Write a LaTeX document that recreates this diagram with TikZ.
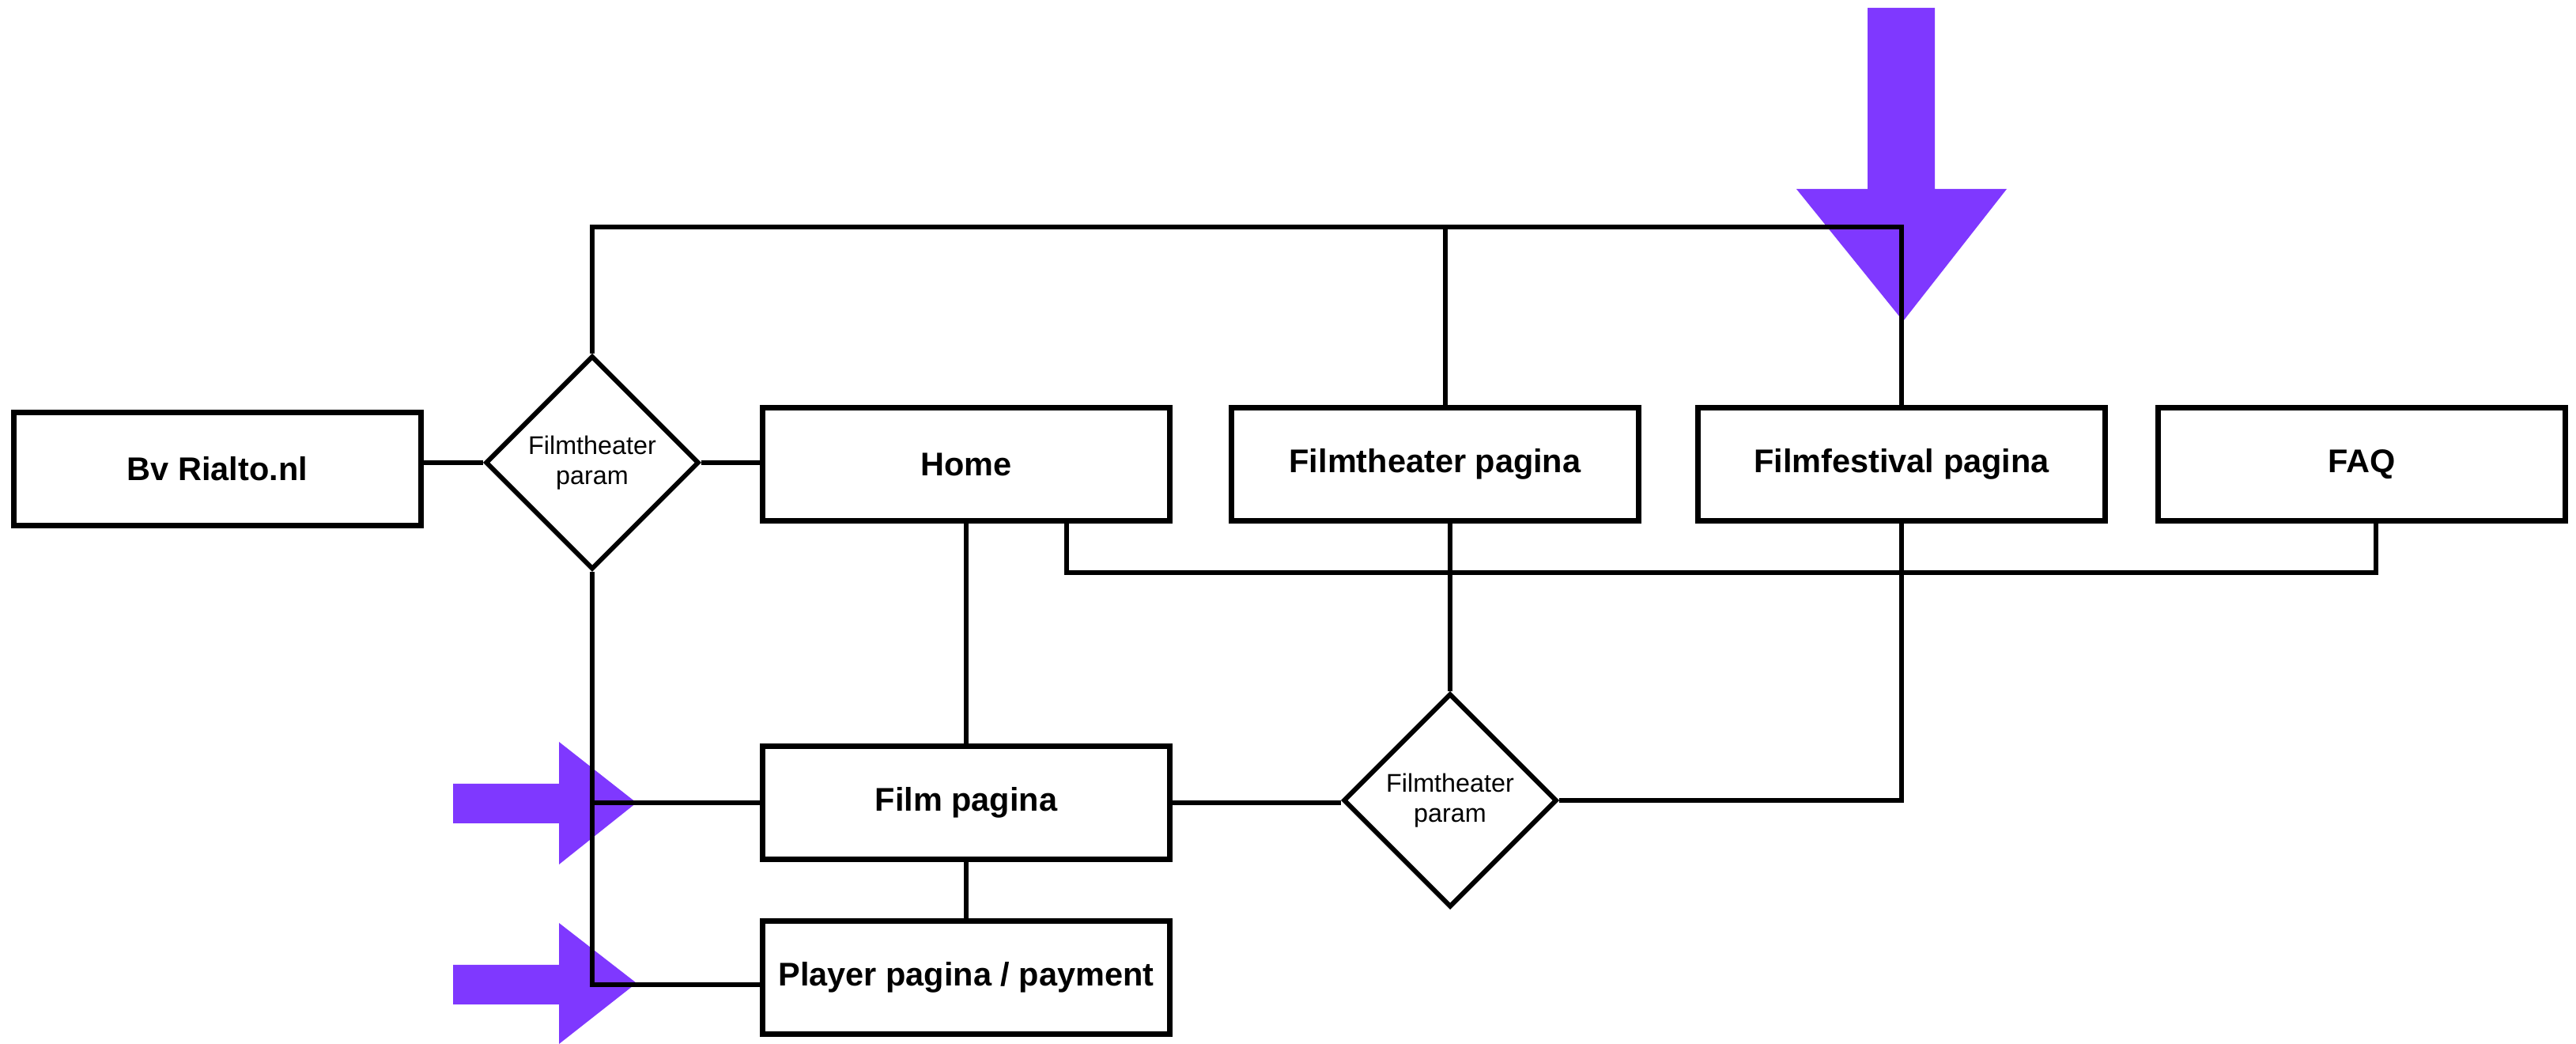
\documentclass[tikz,border=0pt]{standalone}
\usepackage{fontspec}
\setmainfont{Liberation Sans}
\usetikzlibrary{shapes.geometric}
\definecolor{paars}{RGB}{127,56,255}
\begin{document}
\begin{tikzpicture}
		\useasboundingbox (0,0) rectangle (32.58,13.2);
		% paarse pijlen
		\begin{scope}[every path/.style={fill=paars}]
			\path (23.62,13.10) -- (24.47,13.10) -- (24.47,10.81) -- (25.38,10.81) -- (24.07,9.14) -- (22.72,10.81) -- (23.62,10.81) -- cycle;
			\path (5.73,3.29) -- (7.07,3.29) -- (7.07,3.82) -- (8.05,3.05) -- (7.07,2.27) -- (7.07,2.79) -- (5.73,2.79) -- cycle;
			\path (5.73,1.00) -- (7.07,1.00) -- (7.07,1.53) -- (8.05,0.77) -- (7.07,0.00) -- (7.07,0.50) -- (5.73,0.50) -- cycle;
		\end{scope}
		\begin{scope}[every node/.style={rectangle, draw, line width=0.07cm, fill=white, minimum width=5.15cm, minimum height=1.43cm, font=\bfseries\fontsize{11.8}{14}\selectfont}]
			\node (B) at (2.75,7.27) {Bv Rialto.nl};
			\node (H) at (12.22,7.33) {Home};
			\node (FT) at (18.15,7.33) {Filmtheater pagina};
			\node (FF) at (24.05,7.33) {Filmfestival pagina};
			\node (FAQ) at (29.87,7.33) {FAQ};
			\node (FP) at (12.22,3.05) {Film pagina};
			\node (PP) at (12.22,0.84) {Player pagina / payment};
		\end{scope}
		\begin{scope}[every node/.style={diamond, aspect=1, draw, line width=0.06cm, fill=white, minimum width=2.7cm, minimum height=2.7cm, inner sep=0pt, align=center, font=\fontsize{9.2}{11.5}\selectfont}]
			\node (D1) at (7.49,7.35) {Filmtheater\\[-0.5pt]param};
			\node (D2) at (18.34,3.08) {Filmtheater\\[-0.5pt]param};
		\end{scope}
		\coordinate (top) at (24.05,10.33);
		\begin{scope}[line width=0.065cm]
			\draw (B.east |- D1.west) -- (D1.west);
			\draw (D1.east) -- (D1.east -| H.west);
			\draw (D1.north) |- (top) -- (FF.north);
			\draw ([xshift=0.13cm]FT.north) -- ([xshift=0.13cm]FT.north |- top);
			\draw (D1.south) |- ([yshift=-0.09cm]PP.west);
			\draw (D1.south |- FP.west) -- (FP.west);
			\draw (H.south) -- (FP.north);
			\draw (FP.south) -- (PP.north);
			\draw ([xshift=1.27cm]H.south) -- ++(0,-0.62) -| ([xshift=0.18cm]FAQ.south);
			\draw (D2.north) -- (D2.north |- FT.south);
			\draw (FP.east) -- (FP.east -| D2.west);
			\draw (D2.east) -| (FF.south);
		\end{scope}
	\end{tikzpicture}
\end{document}
